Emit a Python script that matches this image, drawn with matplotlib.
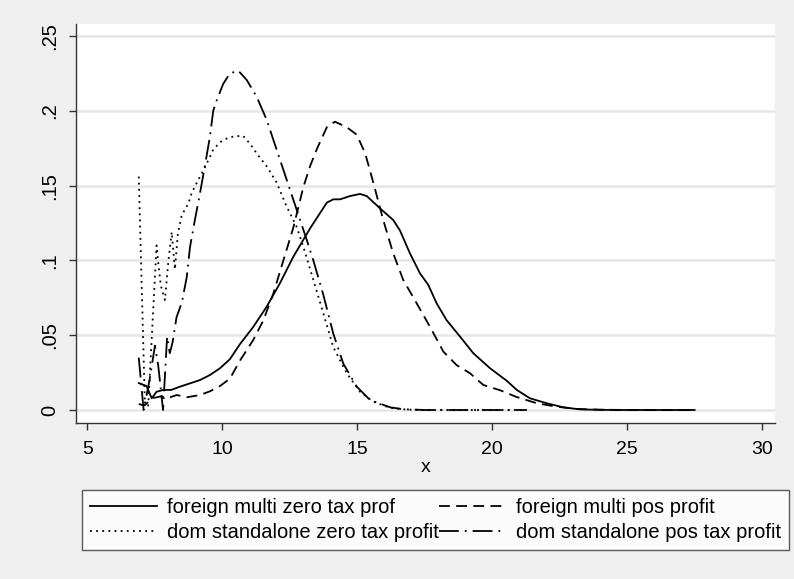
import numpy as np
import matplotlib
matplotlib.use("Agg")
import matplotlib.pyplot as plt

plt.rcParams['font.family'] = ['Liberation Sans', 'DejaVu Sans']

# kernel density estimates
x_fz = [6.9, 7.19, 7.38, 7.56, 7.81, 8.1, 8.43, 8.8, 9.17, 9.54, 9.91, 10.28, 10.65,
        11.15, 11.64, 12.14, 12.63, 13.25, 13.87, 14.11, 14.36, 14.73, 15.1, 15.35,
        15.84, 16.33, 16.58, 16.95, 17.32, 17.63, 17.94, 18.31, 18.81, 19.3, 19.92,
        20.54, 20.91, 21.4, 22.02, 22.63, 23.25, 24.0, 25.0, 26.0, 27.5]
y_fz = [.018, .016, .0078, .0122, .0134, .0134, .0156, .0178, .020, .0234, .0279,
        .034, .044, .0557, .069, .085, .1025, .1214, .1386, .1408, .1408, .143,
        .1444, .143, .1348, .127, .120, .1047, .0914, .0836, .0713, .060, .049,
        .0379, .0279, .0195, .0134, .0078, .0045, .0018, .0004, .0001, 0, 0, 0]

x_fp = [6.9, 7.1, 7.3, 7.44, 7.7, 8.06, 8.31, 8.68, 9.17, 9.54, 9.91, 10.28, 10.65,
        11.15, 11.52, 11.89, 12.26, 12.63, 13.0, 13.25, 13.49, 13.87, 14.17, 14.61,
        14.98, 15.29, 15.6, 15.96, 16.33, 16.7, 17.2, 17.69, 18.19, 18.68, 19.18,
        19.67, 20.29, 20.9, 21.65, 22.39, 23.13, 24.0, 25.0, 26.0, 27.5]
y_fp = [.004, .003, .006, .008, .009, .0085, .010, .0085, .010, .0125, .016, .021,
        .033, .047, .060, .078, .100, .122, .149, .163, .174, .189, .1927, .189,
        .184, .1716, .1515, .127, .1047, .087, .0713, .0557, .039, .030, .0245,
        .0167, .0132, .0087, .0045, .0022, .0007, .0002, 0, 0, 0]

x_dz = [6.9, 7.13, 7.25, 7.56, 7.64, 7.72, 7.87, 8.0, 8.12, 8.24, 8.35, 8.49, 8.61,
        8.74, 8.86, 9.11, 9.29, 9.48, 9.66, 9.91, 10.22, 10.47, 10.77, 11.02, 11.33,
        11.64, 12.01, 12.38, 12.75, 13.0, 13.37, 13.74, 14.11, 14.61, 15.1, 15.59,
        16.2, 16.8, 17.5, 18.5, 19.5, 20.5, 21.28]
y_dz = [.156, .002, .003, .110, .095, .083, .0735, .10, .119, .094, .118, .130, .134,
        .138, .145, .154, .160, .167, .174, .179, .182, .183, .1832, .178, .170,
        .163, .152, .136, .1225, .109, .087, .0646, .042, .0245, .0122, .0056,
        .0015, .0003, 0, 0, 0, 0, 0]

x_dp = [6.9, 7.08, 7.3, 7.5, 7.62, 7.8, 7.95, 8.05, 8.15, 8.3, 8.5, 8.68, 8.8, 8.98,
        9.17, 9.35, 9.54, 9.66, 9.79, 10.03, 10.28, 10.59, 10.9, 11.27, 11.64, 12.01,
        12.38, 12.75, 13.12, 13.37, 13.74, 14.11, 14.48, 14.98, 15.47, 16.21, 16.7,
        17.5, 18.5, 19.5, 20.5, 21.28]
y_dp = [.035, 0, .02, .043, .03, 0, .049, .038, .045, .062, .072, .089, .109, .127,
        .145, .163, .183, .200, .207, .218, .225, .2268, .2206, .2094, .194, .174,
        .154, .134, .114, .100, .077, .051, .031, .0156, .0067, .0018, .0005,
        0, 0, 0, 0, 0]

labels = ["foreign multi zero tax prof", "foreign multi pos profit",
          "dom standalone zero tax profit", "dom standalone pos tax profit"]
xticks = [5, 10, 15, 20, 25, 30]
yticks = [0, .05, .1, .15, .2, .25]
ytick_labels = ["0", ".05", ".1", ".15", ".2", ".25"]

bg = '#efefef'
fig = plt.figure(figsize=(7.94, 5.79), dpi=100, facecolor=bg)
ax = fig.add_axes([76/794, 1 - 423/579, 699/794, 399/579])
ax.set_facecolor('white')

lw = 1.3
l1, = ax.plot(x_fz, y_fz, color='black', lw=lw, linestyle='-')
l2, = ax.plot(x_fp, y_fp, color='black', lw=lw, linestyle=(0, (6, 3.5)))
l3, = ax.plot(x_dz, y_dz, color='black', lw=lw, linestyle=(0, (1, 2.4)))
l4, = ax.plot(x_dp, y_dp, color='black', lw=lw, linestyle=(0, (11, 3.3, 1, 3.3)))

ax.set_xlim(4.574, 30.48)
ax.set_ylim(-0.0087, 0.258)
ax.set_xticks(xticks)
ax.set_yticks(yticks)
ax.set_yticklabels(ytick_labels, rotation=90, va='center')
ax.tick_params(axis='both', length=5, width=1, color='#333333', pad=8)
ax.tick_params(axis='x', labelsize=14)
ax.tick_params(axis='y', labelsize=14.5, pad=7)
ax.grid(axis='y', color='#e6e6e6', lw=1.8)
ax.set_axisbelow(True)
for s in ['top', 'right']:
    ax.spines[s].set_visible(False)
for s in ['left', 'bottom']:
    ax.spines[s].set_color('#333333')
    ax.spines[s].set_linewidth(1)
ax.set_xlabel('x', fontsize=14, labelpad=1)

# legend: stata fills rows, matplotlib fills columns
leg = ax.legend([l1, l3, l2, l4], [labels[0], labels[2], labels[1], labels[3]],
                ncol=2, fontsize=14.5,
                loc='upper left', bbox_to_anchor=(82/794, 1 - 490/579),
                bbox_transform=fig.transFigure, frameon=True, fancybox=False,
                handlelength=3.3, handletextpad=0.5, columnspacing=0.05,
                borderpad=0.4, labelspacing=0.3, borderaxespad=0)
leg.get_frame().set_edgecolor('#333333')
leg.get_frame().set_linewidth(1)

fig.savefig('out.png', dpi=100, facecolor=bg)
